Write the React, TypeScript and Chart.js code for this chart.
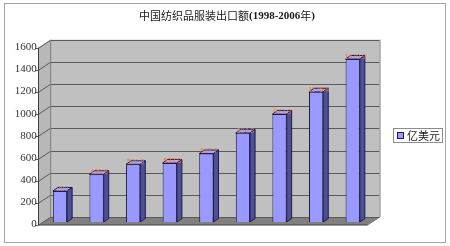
import React, { useEffect, useRef } from 'react';
import { Chart, registerables } from 'chart.js';

Chart.register(...registerables);

// ---- data ----
const titleMain = '中国纺织品服装出口额';
const titleYears = '(1998-2006';
const titleNian = '年';
const titleClose = ')';
const categories = ['1998', '1999', '2000', '2001', '2002', '2003', '2004', '2005', '2006'];
const seriesName = '亿美元';
const exportValues = [280, 430.6, 520.8, 532.8, 617.7, 804.8, 973.9, 1175.4, 1470.9];
const yMin = 0;
const yMax = 1600;
const yStep = 200;

// ---- styling ----
const FRONT = { dx: -3.5, dy: 3 };
const BACK = { dx: 8.5, dy: -5 };
const BAR_D = { dx: 5, dy: -3.5 };

const threeDPlugin = {
  id: 'threeD',
  beforeDraw(chart: any) {
    const { ctx, chartArea } = chart;
    const y = chart.scales.y;
    const L = chartArea.left, R = chartArea.right;
    const y0 = y.getPixelForValue(yMin), yT = y.getPixelForValue(yMax);
    ctx.save();
    // outer border
    ctx.strokeStyle = '#a6a6a6';
    ctx.lineWidth = 1;
    ctx.strokeRect(4.5, 3.5, 441, 239);

    const fl = L + FRONT.dx, fr = R + FRONT.dx;
    const bl = L + BACK.dx, br = R + BACK.dx;
    // back wall
    ctx.fillStyle = '#c0c0c0';
    ctx.fillRect(bl, yT + BACK.dy, br - bl, y0 - yT);
    // left wall
    ctx.fillStyle = '#b8b8b8';
    ctx.beginPath();
    ctx.moveTo(fl, yT + FRONT.dy);
    ctx.lineTo(bl, yT + BACK.dy);
    ctx.lineTo(bl, y0 + BACK.dy);
    ctx.lineTo(fl, y0 + FRONT.dy);
    ctx.closePath();
    ctx.fill();
    // floor
    ctx.fillStyle = '#808080';
    ctx.beginPath();
    ctx.moveTo(fl, y0 + FRONT.dy);
    ctx.lineTo(bl, y0 + BACK.dy);
    ctx.lineTo(br, y0 + BACK.dy);
    ctx.lineTo(fr, y0 + FRONT.dy);
    ctx.closePath();
    ctx.fill();

    // gridlines
    ctx.strokeStyle = '#5a5a5a';
    ctx.lineWidth = 1;
    for (let v = yMin; v <= yMax; v += yStep) {
      const p = Math.round(y.getPixelForValue(v)) + 0.5;
      ctx.beginPath();
      ctx.moveTo(fl, p + FRONT.dy);
      ctx.lineTo(bl, p + BACK.dy);
      ctx.lineTo(br, p + BACK.dy);
      ctx.stroke();
      // tick mark
      ctx.beginPath();
      ctx.moveTo(fl - 3, p + FRONT.dy);
      ctx.lineTo(fl, p + FRONT.dy);
      ctx.stroke();
    }
    // wall edges
    ctx.strokeStyle = '#7a7a7a';
    ctx.beginPath();
    ctx.moveTo(bl + 0.5, yT + BACK.dy);
    ctx.lineTo(bl + 0.5, y0 + BACK.dy);
    ctx.moveTo(br + 0.5, yT + BACK.dy);
    ctx.lineTo(br + 0.5, y0 + BACK.dy);
    ctx.lineTo(fr, y0 + FRONT.dy);
    ctx.stroke();
    // front axis line
    ctx.strokeStyle = '#404040';
    ctx.beginPath();
    ctx.moveTo(Math.round(fl) + 0.5, yT + FRONT.dy);
    ctx.lineTo(Math.round(fl) + 0.5, y0 + FRONT.dy);
    ctx.lineTo(fr, y0 + FRONT.dy);
    ctx.stroke();
    ctx.restore();
  },
  afterDatasetsDraw(chart: any) {
    const { ctx } = chart;
    const meta = chart.getDatasetMeta(0);
    ctx.save();
    meta.data.forEach((bar: any, i: number) => {
      const { x, y: top, base, width } = bar.getProps(['x', 'y', 'base', 'width'], true);
      const l = x - width / 2, r = x + width / 2;
      // top face
      ctx.fillStyle = '#aaaaff';
      ctx.strokeStyle = '#1c1c50';
      ctx.lineWidth = 1;
      ctx.beginPath();
      ctx.moveTo(l, top);
      ctx.lineTo(l + BAR_D.dx, top + BAR_D.dy);
      ctx.lineTo(r + BAR_D.dx, top + BAR_D.dy);
      ctx.lineTo(r, top);
      ctx.closePath();
      ctx.fill();
      ctx.stroke();
      // side face
      ctx.fillStyle = '#4f4f94';
      ctx.beginPath();
      ctx.moveTo(r, top);
      ctx.lineTo(r + BAR_D.dx, top + BAR_D.dy);
      ctx.lineTo(r + BAR_D.dx, base + BAR_D.dy);
      ctx.lineTo(r, base);
      ctx.closePath();
      ctx.fill();
      ctx.stroke();
      // value label
      ctx.fillStyle = '#f07a3a';
      ctx.font = '7px "Liberation Sans"';
      ctx.textAlign = 'center';
      ctx.textBaseline = 'middle';
      ctx.fillText(String(exportValues[i]), x + 2.5, top - 2);
    });
    ctx.restore();
  },
  afterDraw(chart: any) {
    const { ctx } = chart;
    ctx.save();
    // title (mixed fonts)
    const parts = [
      { t: titleMain, f: '11px "Noto Sans CJK SC"' },
      { t: titleYears, f: 'bold 11px "Liberation Serif"' },
      { t: titleNian, f: '11px "Noto Sans CJK SC"' },
      { t: titleClose, f: 'bold 11px "Liberation Serif"' },
    ];
    let total = 0;
    parts.forEach((p) => { ctx.font = p.f; total += ctx.measureText(p.t).width; });
    let tx = 227 - total / 2;
    ctx.fillStyle = '#1a1a1a';
    ctx.textBaseline = 'middle';
    ctx.textAlign = 'left';
    parts.forEach((p) => { ctx.font = p.f; ctx.fillText(p.t, tx, 16); tx += ctx.measureText(p.t).width; });

    // legend
    ctx.fillStyle = '#ffffff';
    ctx.fillRect(393.5, 128.5, 49, 14);
    ctx.strokeStyle = '#8c8c8c';
    ctx.lineWidth = 1;
    ctx.strokeRect(393.5, 128.5, 49, 14);
    ctx.fillStyle = '#9999ff';
    ctx.fillRect(397.5, 132.5, 6, 6);
    ctx.strokeStyle = '#1c1c50';
    ctx.strokeRect(397.5, 132.5, 6, 6);
    ctx.fillStyle = '#1a1a1a';
    ctx.font = '11px "Noto Sans CJK SC"';
    ctx.textBaseline = 'middle';
    ctx.fillText(seriesName, 407, 136);
    ctx.restore();
  },
};

export default function App() {
  const ref = useRef<HTMLCanvasElement | null>(null);
  useEffect(() => {
    document.body.style.margin = '0';
    const canvas = ref.current;
    if (!canvas) return;
    const chart = new Chart(canvas, {
      type: 'bar',
      data: {
        labels: categories,
        datasets: [
          {
            label: seriesName,
            data: exportValues,
            backgroundColor: '#9999ff',
            borderColor: '#1c1c50',
            borderWidth: 1,
            barPercentage: 0.39,
            categoryPercentage: 1,
          },
        ],
      },
      options: {
        responsive: false,
        animation: false,
        devicePixelRatio: 1,
        layout: { padding: { left: 0, top: 44.7, right: 79, bottom: 24 } },
        plugins: {
          legend: { display: false },
          title: { display: false },
          tooltip: { enabled: false },
        },
        scales: {
          x: { display: false },
          y: {
            min: yMin,
            max: yMax,
            grid: { display: false, drawTicks: false },
            border: { display: false },
            ticks: {
              stepSize: yStep,
              padding: 5,
              labelOffset: 2.5,
              color: '#333333',
              font: { family: '"Liberation Serif"', size: 11 },
              callback: (v: any) => String(v),
            },
            afterFit: (scale: any) => { scale.width = 41.7; },
          },
        },
      },
      plugins: [threeDPlugin],
    });
    return () => chart.destroy();
  }, []);
  return <canvas ref={ref} width={450} height={246} style={{ display: 'block' }} />;
}
